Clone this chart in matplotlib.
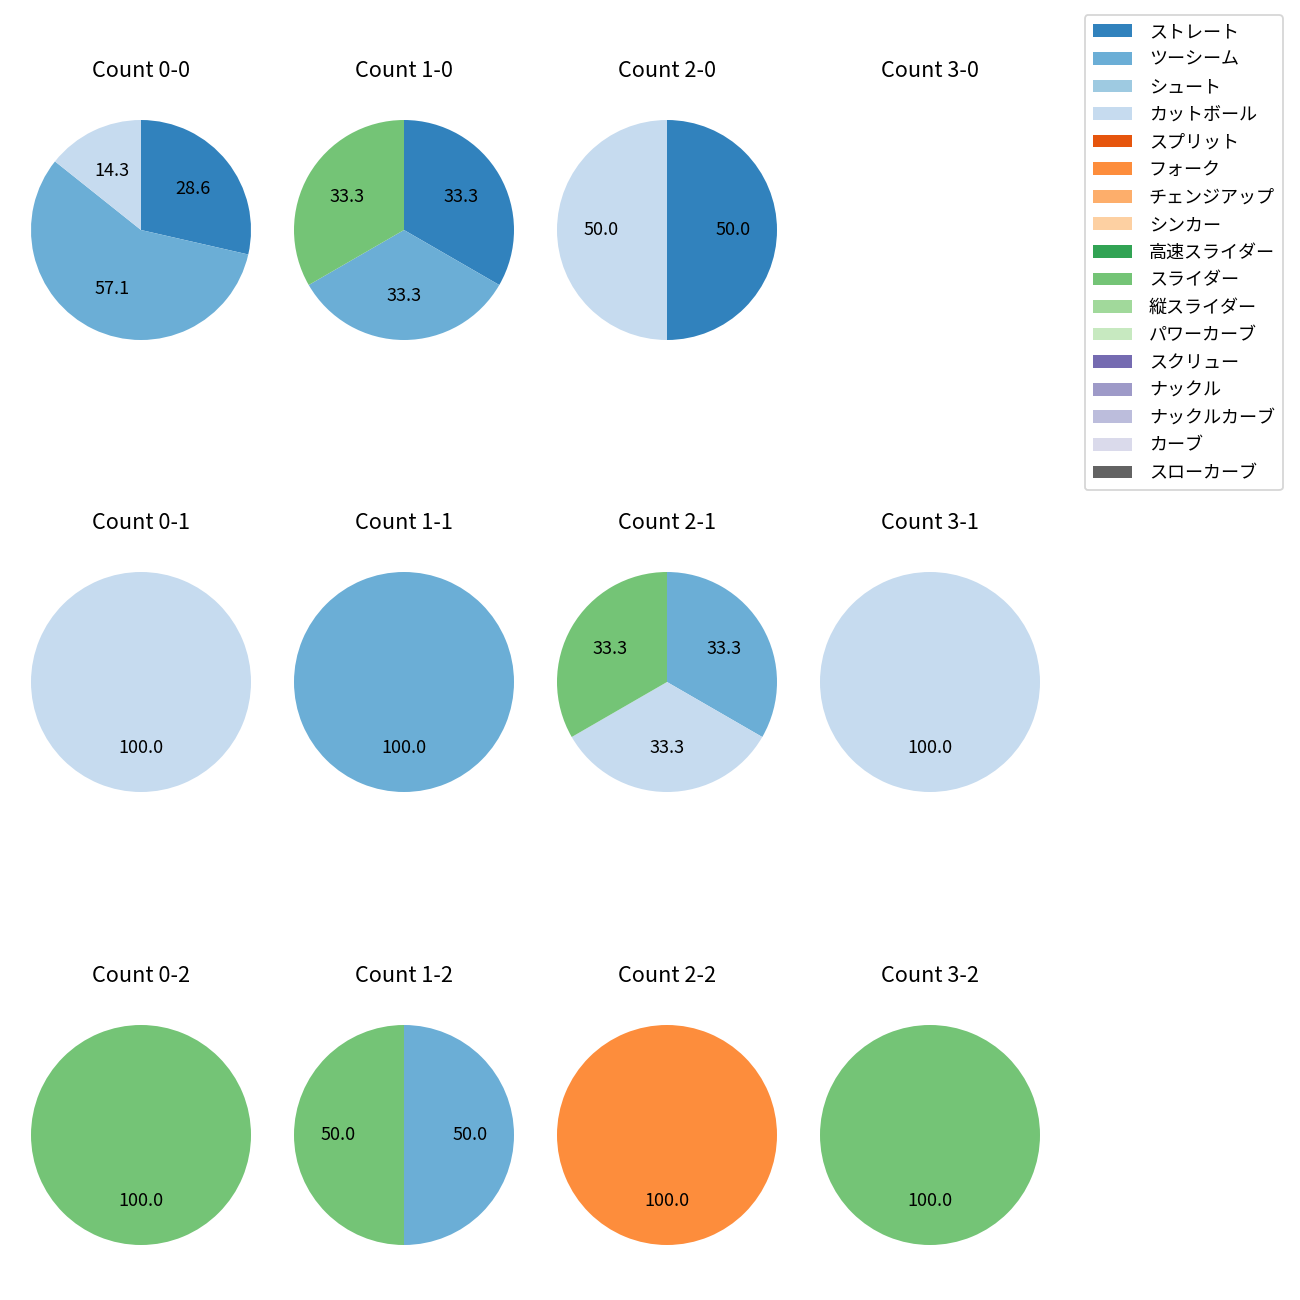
import numpy as np
import matplotlib.pyplot as plt
from matplotlib.patches import Patch

plt.rcParams['font.family'] = ['Noto Sans CJK JP', 'DejaVu Sans']

pitch_types = ["ストレート", "ツーシーム", "シュート", "カットボール", "スプリット",
               "フォーク", "チェンジアップ", "シンカー", "高速スライダー", "スライダー",
               "縦スライダー", "パワーカーブ", "スクリュー", "ナックル", "ナックルカーブ",
               "カーブ", "スローカーブ"]

# pitch counts per ball-strike state (only non-zero entries listed)
count_0_0 = {"ストレート": 2, "ツーシーム": 4, "カットボール": 1}
count_1_0 = {"ストレート": 1, "ツーシーム": 1, "スライダー": 1}
count_2_0 = {"ストレート": 1, "カットボール": 1}
count_3_0 = {}
count_0_1 = {"カットボール": 1}
count_1_1 = {"ツーシーム": 1}
count_2_1 = {"ツーシーム": 1, "カットボール": 1, "スライダー": 1}
count_3_1 = {"カットボール": 1}
count_0_2 = {"スライダー": 1}
count_1_2 = {"ツーシーム": 1, "スライダー": 1}
count_2_2 = {"フォーク": 1}
count_3_2 = {"スライダー": 1}

grid = [[count_0_0, count_1_0, count_2_0, count_3_0],
        [count_0_1, count_1_1, count_2_1, count_3_1],
        [count_0_2, count_1_2, count_2_2, count_3_2]]

cmap = plt.get_cmap('tab20c')
colors = {p: cmap(i) for i, p in enumerate(pitch_types)}

fig = plt.figure(figsize=(10, 10), dpi=130)
W = H = 1300.0
size = 275.0
col_centers = [141, 404, 667, 930]
row_centers = [230, 682, 1135]

for r in range(3):
    for c in range(4):
        cx, cy = col_centers[c], row_centers[r]
        ax = fig.add_axes([(cx - size / 2) / W, 1 - (cy + size / 2) / H, size / W, size / H])
        data = grid[r][c]
        labels = [p for p in pitch_types if data.get(p, 0) > 0]
        vals = [data[p] for p in labels]
        if vals:
            ax.pie(vals, colors=[colors[p] for p in labels], autopct='%.1f',
                   startangle=90, counterclock=False, textprops={'fontsize': 10})
        else:
            ax.set_xlim(-1.25, 1.25)
            ax.set_ylim(-1.25, 1.25)
        ax.set_aspect('equal')
        ax.axis('off')
        ax.set_title(f"Count {c}-{r}", fontsize=12, pad=8.8)

handles = [Patch(facecolor=colors[p], label=p) for p in pitch_types]
fig.legend(handles=handles, loc='upper right', bbox_to_anchor=(0.9938, 0.9954),
           fontsize=10, labelspacing=0.53, handlelength=2.15, handletextpad=0.95,
           borderpad=0.45)

fig.savefig('out.png', dpi=130)
